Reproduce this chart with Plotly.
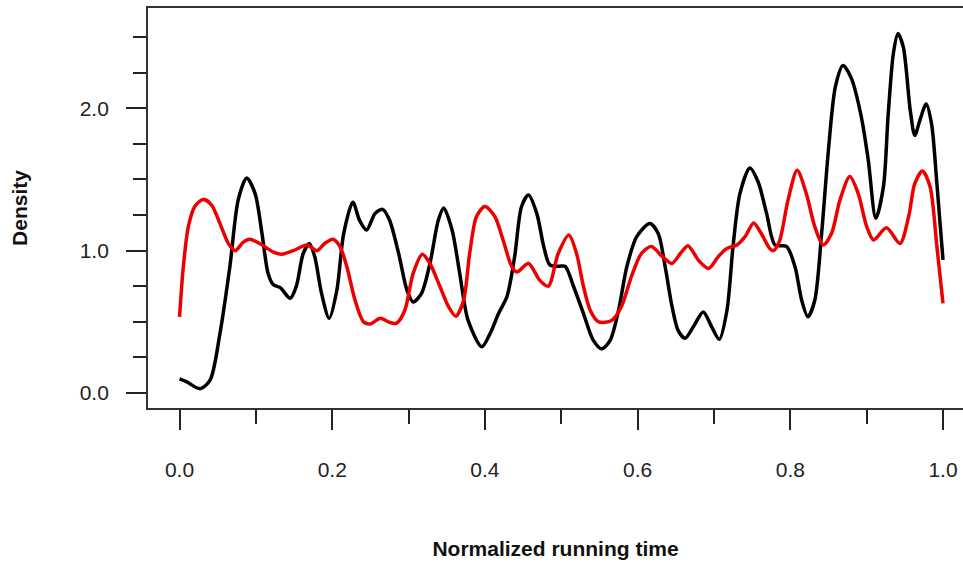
import plotly.graph_objects as go

# Black density curve
black_x = [0.0, 0.009, 0.027, 0.04, 0.053, 0.066, 0.077, 0.088, 0.099, 0.108, 0.116, 0.123, 0.132,
           0.145, 0.153, 0.162, 0.170, 0.177, 0.186, 0.196, 0.206, 0.215, 0.227, 0.236, 0.245,
           0.256, 0.266, 0.275, 0.287, 0.298, 0.306, 0.317, 0.328, 0.339, 0.346, 0.357, 0.367,
           0.378, 0.396, 0.407, 0.418, 0.429, 0.439, 0.448, 0.457, 0.468, 0.477, 0.485, 0.496,
           0.505, 0.516, 0.529, 0.542, 0.553, 0.564, 0.575, 0.586, 0.599, 0.616, 0.627, 0.636,
           0.645, 0.653, 0.662, 0.673, 0.686, 0.697, 0.707, 0.717, 0.725, 0.734, 0.747, 0.758,
           0.769, 0.780, 0.795, 0.806, 0.815, 0.823, 0.832, 0.841, 0.850, 0.859, 0.869, 0.880,
           0.893, 0.902, 0.912, 0.922, 0.928, 0.935, 0.941, 0.948, 0.957, 0.963, 0.970, 0.978,
           0.985, 0.992, 1.0]
black_y = [0.10, 0.08, 0.03, 0.09, 0.42, 0.89, 1.36, 1.51, 1.40, 1.12, 0.84, 0.76, 0.74,
           0.665, 0.75, 0.98, 1.05, 0.96, 0.70, 0.525, 0.72, 1.12, 1.34, 1.21, 1.145,
           1.26, 1.29, 1.215, 0.98, 0.72, 0.64, 0.70, 0.91, 1.215, 1.30, 1.145, 0.84,
           0.51, 0.325, 0.42, 0.56, 0.68, 0.96, 1.31, 1.39, 1.26, 1.03, 0.90, 0.89,
           0.89, 0.75, 0.56, 0.37, 0.31, 0.37, 0.58, 0.89, 1.10, 1.19, 1.12, 0.89,
           0.61, 0.44, 0.385, 0.465, 0.57, 0.465, 0.377, 0.58, 1.03, 1.40, 1.58, 1.48,
           1.26, 1.04, 1.03, 0.89, 0.65, 0.536, 0.65, 1.12, 1.71, 2.15, 2.30, 2.21,
           1.94, 1.64, 1.227, 1.45, 1.94, 2.385, 2.525, 2.43, 1.99, 1.81, 1.92, 2.03,
           1.89, 1.47, 0.935]

# Red density curve
red_x = [0.0, 0.005, 0.0116, 0.020, 0.031, 0.042, 0.053, 0.064, 0.073, 0.0836, 0.092, 0.105,
         0.123, 0.134, 0.149, 0.167, 0.18, 0.19, 0.201, 0.21, 0.219, 0.23, 0.241, 0.25,
         0.263, 0.2735, 0.284, 0.295, 0.306, 0.318, 0.328, 0.341, 0.352, 0.362, 0.372, 0.38,
         0.389, 0.40, 0.413, 0.424, 0.435, 0.442, 0.457, 0.472, 0.483, 0.496, 0.51, 0.52,
         0.529, 0.538, 0.549, 0.566, 0.579, 0.592, 0.605, 0.618, 0.632, 0.645, 0.656, 0.666,
         0.68, 0.693, 0.706, 0.717, 0.73, 0.741, 0.752, 0.762, 0.773, 0.778, 0.786, 0.797,
         0.809, 0.821, 0.832, 0.843, 0.854, 0.865, 0.878, 0.889, 0.90, 0.909, 0.926, 0.9437,
         0.955, 0.963, 0.973, 0.983, 0.992, 1.0]
red_y = [0.535, 0.89, 1.17, 1.31, 1.36, 1.32, 1.19, 1.05, 1.00, 1.06, 1.08, 1.05,
         0.99, 0.975, 1.00, 1.04, 1.00, 1.05, 1.08, 1.03, 0.89, 0.65, 0.50, 0.485,
         0.525, 0.50, 0.49, 0.58, 0.84, 0.975, 0.91, 0.75, 0.61, 0.54, 0.65, 0.98,
         1.24, 1.31, 1.24, 1.07, 0.89, 0.85, 0.91, 0.79, 0.75, 0.98, 1.11, 0.98,
         0.75, 0.58, 0.50, 0.51, 0.61, 0.82, 0.98, 1.03, 0.96, 0.91, 0.98, 1.035,
         0.93, 0.875, 0.96, 1.015, 1.04, 1.10, 1.195, 1.12, 1.015, 1.00, 1.07, 1.355,
         1.565, 1.40, 1.17, 1.04, 1.12, 1.355, 1.52, 1.40, 1.17, 1.075, 1.16, 1.05,
         1.24, 1.47, 1.56, 1.45, 1.03, 0.63]

x_tick_vals = [0.0, 0.2, 0.4, 0.6, 0.8, 1.0]
x_tick_text = ["0.0", "0.2", "0.4", "0.6", "0.8", "1.0"]
y_tick_vals = [0.0, 1.0, 2.0]
y_tick_text = ["0.0", "1.0", "2.0"]

fig = go.Figure()
fig.add_trace(go.Scatter(x=black_x, y=black_y, mode="lines",
                         line=dict(color="black", width=3.5, shape="spline", smoothing=0.8),
                         showlegend=False))
fig.add_trace(go.Scatter(x=red_x, y=red_y, mode="lines",
                         line=dict(color="#ee0000", width=3.5, shape="spline", smoothing=0.8),
                         showlegend=False))

axis_font = dict(family="Liberation Sans, Arial, sans-serif", size=21, color="#222222")
title_font = dict(family="Liberation Sans, Arial, sans-serif", size=21, color="#111111")

fig.update_layout(
    width=963, height=562,
    margin=dict(l=148, r=0, t=8, b=154, autoexpand=False),
    paper_bgcolor="white", plot_bgcolor="white",
    xaxis=dict(
        range=[-0.0413, 1.0262], tickmode="array", tickvals=x_tick_vals, ticktext=x_tick_text,
        ticks="outside", ticklen=20, tickwidth=1.6, tickcolor="#222222",
        minor=dict(dtick=0.1, tick0=0, ticks="outside", ticklen=14, tickwidth=1.6, tickcolor="#222222", showgrid=False),
        showline=True, linecolor="#333333", linewidth=1.8, mirror=True,
        showgrid=False, zeroline=False, tickfont=axis_font, ticklabelstandoff=22,
        title=dict(text="<b>Normalized running time</b>", font=title_font, standoff=61),
        automargin=False,
    ),
    yaxis=dict(
        range=[-0.105, 2.704], tickmode="array", tickvals=y_tick_vals, ticktext=y_tick_text,
        ticks="outside", ticklen=20, tickwidth=1.6, tickcolor="#222222",
        minor=dict(dtick=0.25, tick0=0, ticks="outside", ticklen=13, tickwidth=1.6, tickcolor="#222222", showgrid=False),
        showline=True, linecolor="#333333", linewidth=1.8, mirror=False,
        showgrid=False, zeroline=False, tickfont=axis_font, ticklabelstandoff=13,
        title=dict(text="<b>Density</b>", font=title_font, standoff=46),
        automargin=False,
    ),
)

fig.write_html("out.html", config={"displayModeBar": False},
               post_script="document.body.style.margin='0px';")
